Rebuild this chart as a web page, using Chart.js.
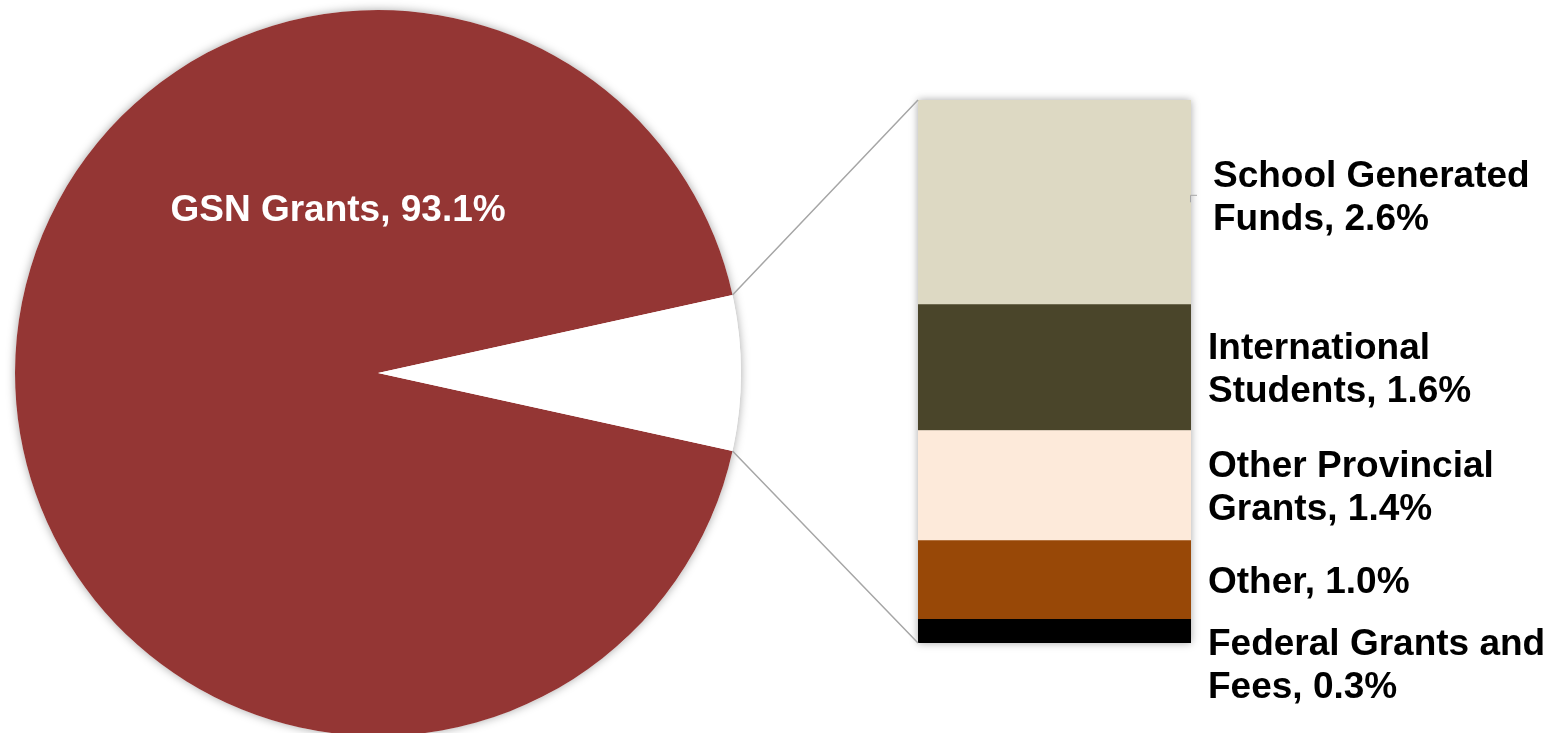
<!DOCTYPE html>
<html>
<head>
<meta charset="utf-8">
<script src="https://cdn.jsdelivr.net/npm/chart.js@4/dist/chart.umd.min.js"></script>
<style>
  html, body { margin: 0; padding: 0; background: #fff; overflow: hidden; width: 1562px; height: 733px; }
  #wrap { position: relative; width: 1562px; height: 733px; }
  canvas { position: absolute; left: 0; top: 0; }
</style>
</head>
<body>
<div id="wrap">
  <canvas id="canvPie" width="1562" height="746"></canvas>
  <canvas id="canvBar" width="1562" height="733"></canvas>
</div>
<script>
var pieLabel = 'GSN Grants';
var pieValue = 93.1;

// barra de la derecha, de arriba a abajo
var categorias = ['School Generated Funds', 'International Students', 'Other Provincial Grants', 'Other', 'Federal Grants and Fees'];
var valores = [2.6, 1.6, 1.4, 1.0, 0.3];
var colores = ['#DDD9C3', '#4A452A', '#FDEADA', '#984807', '#000000'];

var fuente = 'bold 37px "Liberation Sans", Arial, sans-serif';
var totalResto = 0;
valores.forEach(function (v) { totalResto += v; });
totalResto = Math.round(totalResto * 10) / 10;

var graficoPie = null;

/* PIE */
var sombraPie = {
    id: 'sombraPie',
    beforeDatasetsDraw: function (chart) {
        var arc = chart.getDatasetMeta(0).data[0];
        var ctx = chart.ctx;
        ctx.save();
        ctx.shadowColor = 'rgba(0,0,0,0.35)';
        ctx.shadowBlur = 10;
        ctx.fillStyle = '#fff';
        ctx.beginPath();
        ctx.arc(arc.x, arc.y, arc.outerRadius, 0, Math.PI * 2);
        ctx.fill();
        ctx.restore();
    },
    afterDatasetsDraw: function (chart) {
        var arc = chart.getDatasetMeta(0).data[0];
        var ctx = chart.ctx;
        var r = arc.outerRadius;
        ctx.save();
        ctx.font = fuente;
        ctx.fillStyle = '#fff';
        ctx.textAlign = 'center';
        ctx.textBaseline = 'alphabetic';
        ctx.fillText(pieLabel + ', ' + pieValue.toFixed(1) + '%', arc.x - 0.11 * r, arc.y - 0.455 * r + 13);
        ctx.restore();
    }
};

// el hueco blanco queda centrado a la derecha
var giro = 90 - ((pieValue / (pieValue + totalResto)) * 360 - 360) - (totalResto / (pieValue + totalResto)) * 180;

graficoPie = new Chart(document.getElementById('canvPie'), {
    type: 'pie',
    data: {
        labels: [pieLabel, 'Other'],
        datasets: [{
            data: [pieValue, totalResto],
            backgroundColor: ['#943634', '#FFFFFF'],
            borderWidth: 0
        }]
    },
    options: {
        responsive: false,
        animation: false,
        rotation: giro,
        layout: { padding: { left: 15, top: 10, right: 821, bottom: 10 } },
        events: [],
        plugins: { legend: { display: false }, tooltip: { enabled: false } }
    },
    plugins: [sombraPie]
});

/* BARRA */
function partirTexto(ctx, texto, maxAncho) {
    var palabras = texto.split(' ');
    var lineas = [];
    var actual = '';
    palabras.forEach(function (p) {
        var prueba = actual ? actual + ' ' + p : p;
        if (actual && ctx.measureText(prueba).width > maxAncho) {
            lineas.push(actual);
            actual = p;
        } else {
            actual = prueba;
        }
    });
    lineas.push(actual);
    return lineas;
}

var extrasBarra = {
    id: 'extrasBarra',
    beforeDatasetsDraw: function (chart) {
        var n = chart.data.datasets.length;
        var abajo = chart.getDatasetMeta(0).data[0];
        var arriba = chart.getDatasetMeta(n - 1).data[0];
        var ctx = chart.ctx;
        ctx.save();
        ctx.shadowColor = 'rgba(0,0,0,0.35)';
        ctx.shadowBlur = 8;
        ctx.fillStyle = '#fff';
        ctx.fillRect(abajo.x - abajo.width / 2, arriba.y, abajo.width, abajo.base - arriba.y);
        ctx.restore();
    },
    afterDatasetsDraw: function (chart) {
        var ctx = chart.ctx;
        var n = chart.data.datasets.length;
        var abajo = chart.getDatasetMeta(0).data[0];
        var arriba = chart.getDatasetMeta(n - 1).data[0];
        var izq = abajo.x - abajo.width / 2;

        // lineas de conexion con el hueco del pie
        var hueco = graficoPie.getDatasetMeta(0).data[1];
        ctx.save();
        ctx.strokeStyle = '#A6A6A6';
        ctx.lineWidth = 1.5;
        ctx.beginPath();
        ctx.moveTo(hueco.x + hueco.outerRadius * Math.cos(hueco.startAngle), hueco.y + hueco.outerRadius * Math.sin(hueco.startAngle));
        ctx.lineTo(izq, arriba.y);
        ctx.moveTo(hueco.x + hueco.outerRadius * Math.cos(hueco.endAngle), hueco.y + hueco.outerRadius * Math.sin(hueco.endAngle));
        ctx.lineTo(izq, abajo.base);
        ctx.stroke();
        ctx.restore();

        // etiquetas, de arriba a abajo
        ctx.save();
        ctx.font = fuente;
        ctx.fillStyle = '#000';
        ctx.textAlign = 'left';
        ctx.textBaseline = 'alphabetic';
        var altoLinea = 43;
        var finAnterior = -1000;
        for (var i = n - 1; i >= 0; i--) {
            var el = chart.getDatasetMeta(i).data[0];
            var ds = chart.data.datasets[i];
            var lineas = partirTexto(ctx, ds.label + ', ' + ds.data[0].toFixed(1) + '%', 350);
            var medio = lineas.length * altoLinea / 2;
            var centro = Math.max((el.y + el.base) / 2, finAnterior + 19 + medio);
            var x = el.x + el.width / 2 + 17;
            if (i === n - 1) {
                // la primera etiqueta esta un poco movida, con su guia
                centro -= 7;
                x += 5;
                ctx.save();
                ctx.strokeStyle = '#A6A6A6';
                ctx.lineWidth = 1;
                ctx.beginPath();
                ctx.moveTo(el.x + el.width / 2 - 0.5, (el.y + el.base) / 2);
                ctx.lineTo(el.x + el.width / 2 - 0.5, centro);
                ctx.lineTo(el.x + el.width / 2 + 6, centro);
                ctx.stroke();
                ctx.restore();
            }
            lineas.forEach(function (l, k) {
                var yc = centro - medio + altoLinea * (k + 0.5);
                ctx.fillText(l, x, yc + 13);
            });
            finAnterior = centro + medio;
        }
        ctx.restore();
    }
};

var datasetsBarra = [];
for (var i = categorias.length - 1; i >= 0; i--) {
    datasetsBarra.push({
        label: categorias[i],
        data: [valores[i]],
        backgroundColor: colores[i],
        borderWidth: 0,
        barPercentage: 1,
        categoryPercentage: 1
    });
}

new Chart(document.getElementById('canvBar'), {
    type: 'bar',
    data: { labels: ['Other'], datasets: datasetsBarra },
    options: {
        responsive: false,
        animation: false,
        events: [],
        layout: { padding: { left: 918, right: 371, top: 100, bottom: 90 } },
        scales: {
            x: { display: false, stacked: true },
            y: { display: false, stacked: true, min: 0, max: totalResto }
        },
        plugins: { legend: { display: false }, tooltip: { enabled: false } }
    },
    plugins: [extrasBarra]
});
</script>
</body>
</html>
